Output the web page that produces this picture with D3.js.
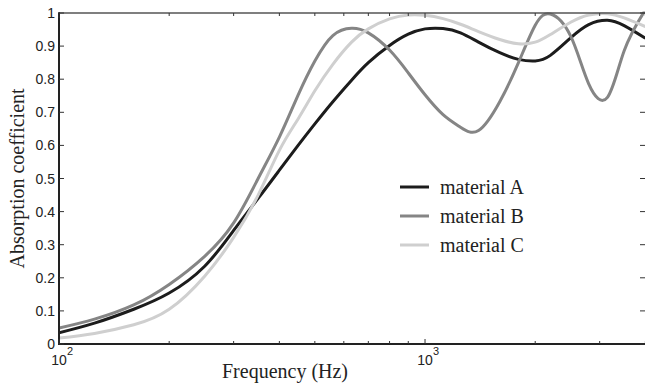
<!DOCTYPE html>
<html>
<head>
<meta charset="utf-8">
<script src="https://cdn.jsdelivr.net/npm/d3@7"></script>
<style>
  body { margin: 0; background: #fff; }
  svg { display: block; }
  .tick-label { font-family: "Liberation Sans", Arial, sans-serif; font-size: 14px; fill: #222; }
  .title { font-family: "Liberation Serif", "Times New Roman", serif; font-size: 20px; fill: #222; }
</style>
</head>
<body>
<div id="chart"></div>
<script>
// frequencies (Hz) shared by all three curves
var freqs = [100, 125, 160, 200, 250, 300, 350, 400, 450, 500, 560, 630, 700, 800, 900,
  1000, 1120, 1250, 1400, 1600, 1800, 2000, 2200, 2500, 2800, 3150, 3500, 4000]
var materialA = [0.034, 0.063, 0.105, 0.154, 0.235, 0.343, 0.44, 0.525, 0.60, 0.665, 0.732, 0.797, 0.85, 0.902, 0.936,
  0.952, 0.953, 0.94, 0.912, 0.88, 0.86, 0.855, 0.872, 0.925, 0.965, 0.978, 0.962, 0.924]
var materialB = [0.048, 0.075, 0.118, 0.18, 0.265, 0.366, 0.50, 0.625, 0.752, 0.855, 0.932, 0.954, 0.94, 0.888, 0.819,
  0.753, 0.693, 0.655, 0.645, 0.732, 0.85, 0.963, 0.997, 0.93, 0.786, 0.745, 0.886, 1.01]
var materialC = [0.018, 0.032, 0.058, 0.105, 0.205, 0.322, 0.45, 0.585, 0.68, 0.765, 0.845, 0.912, 0.952, 0.982, 0.994,
  0.993, 0.983, 0.966, 0.944, 0.92, 0.907, 0.912, 0.935, 0.972, 0.994, 0.998, 0.985, 0.959]
var seriesNames = ['material A', 'material B', 'material C']
var seriesColors = ['#1c1c1c', '#858585', '#cfcfcf']

var yTicks = [0, 0.1, 0.2, 0.3, 0.4, 0.5, 0.6, 0.7, 0.8, 0.9, 1]
var yTickLabels = ['0', '0.1', '0.2', '0.3', '0.4', '0.5', '0.6', '0.7', '0.8', '0.9', '1']
var xMajor = [100, 1000]
var xMajorExp = ['2', '3']
var xMinor = [200, 300, 400, 500, 600, 700, 800, 900, 2000, 3000, 4000]

var W = 645, H = 386
// plot box (window.top is reserved, so p-prefixed names)
var pLeft = 59, pTop = 13, pRight = 645.4, pBottom = 344

var svg = d3.select('#chart').append('svg').attr('width', W).attr('height', H)

var x = d3.scaleLog().domain([100, 4000]).range([pLeft, pRight])
var y = d3.scaleLinear().domain([0, 1]).range([pBottom, pTop])

svg.append('defs').append('clipPath').attr('id', 'plotClip')
  .append('rect').attr('x', pLeft).attr('y', pTop - 1.5)
  .attr('width', pRight - pLeft).attr('height', pBottom - pTop + 1.5)

// curves
var line = d3.line()
  .x(function(d){ return x(d[0]) })
  .y(function(d){ return y(d[1]) })
  .curve(d3.curveNatural)

var allSeries = [materialA, materialB, materialC]
var plot = svg.append('g').attr('clip-path', 'url(#plotClip)')
allSeries.forEach(function(vals, i){
  plot.append('path')
    .datum(freqs.map(function(f, j){ return [f, vals[j]] }))
    .attr('d', line)
    .attr('fill', 'none')
    .attr('stroke', seriesColors[i])
    .attr('stroke-width', 3)
})

// frame
svg.append('line').attr('x1', pLeft).attr('x2', pRight).attr('y1', pTop).attr('y2', pTop)
  .attr('stroke', '#555').attr('stroke-width', 1.5)
svg.append('line').attr('x1', pLeft).attr('x2', pRight).attr('y1', pBottom).attr('y2', pBottom)
  .attr('stroke', '#222').attr('stroke-width', 2)
svg.append('line').attr('x1', pLeft).attr('x2', pLeft).attr('y1', pTop - 0.75).attr('y2', pBottom + 1)
  .attr('stroke', '#222').attr('stroke-width', 2)

// ticks
var ticks = svg.append('g').attr('stroke', '#333').attr('stroke-width', 1)
yTicks.forEach(function(t){
  ticks.append('line').attr('x1', pLeft).attr('x2', pLeft + 5).attr('y1', y(t)).attr('y2', y(t))
  ticks.append('line').attr('x1', pRight - 5.4).attr('x2', pRight).attr('y1', y(t)).attr('y2', y(t))
})
xMajor.forEach(function(t){
  ticks.append('line').attr('x1', x(t)).attr('x2', x(t)).attr('y1', pBottom).attr('y2', pBottom - 5)
  ticks.append('line').attr('x1', x(t)).attr('x2', x(t)).attr('y1', pTop).attr('y2', pTop + 5)
})
xMinor.forEach(function(t){
  ticks.append('line').attr('x1', x(t)).attr('x2', x(t)).attr('y1', pBottom).attr('y2', pBottom - 3)
  ticks.append('line').attr('x1', x(t)).attr('x2', x(t)).attr('y1', pTop).attr('y2', pTop + 3)
})

// tick labels
yTicks.forEach(function(t, i){
  svg.append('text').attr('class', 'tick-label')
    .attr('x', pLeft - 4).attr('y', y(t) + 5)
    .attr('text-anchor', 'end')
    .text(yTickLabels[i])
})
xMajor.forEach(function(t, i){
  var g = svg.append('g').attr('transform', 'translate(' + x(t) + ',0)')
  g.append('text').attr('class', 'tick-label')
    .attr('x', 0).attr('y', 365).attr('text-anchor', 'middle').text('10')
  g.append('text').attr('class', 'tick-label').style('font-size', '11px')
    .attr('x', 8).attr('y', 355).text(xMajorExp[i])
})

// axis titles
svg.append('text').attr('class', 'title')
  .attr('x', 285).attr('y', 378).attr('text-anchor', 'middle')
  .text('Frequency (Hz)')
svg.append('text').attr('class', 'title')
  .attr('transform', 'translate(24,' + ((pTop + pBottom) / 2) + ') rotate(-90)')
  .attr('text-anchor', 'middle')
  .text('Absorption coefficient')

// legend
var legend = svg.append('g').attr('transform', 'translate(400,187)')
seriesNames.forEach(function(name, i){
  var row = legend.append('g').attr('transform', 'translate(0,' + (i * 29) + ')')
  row.append('line').attr('x1', 0).attr('x2', 29).attr('y1', 0).attr('y2', 0)
    .attr('stroke', seriesColors[i]).attr('stroke-width', 3)
  row.append('text').attr('class', 'title').attr('x', 40).attr('y', 6.5).text(name)
})
</script>
</body>
</html>
